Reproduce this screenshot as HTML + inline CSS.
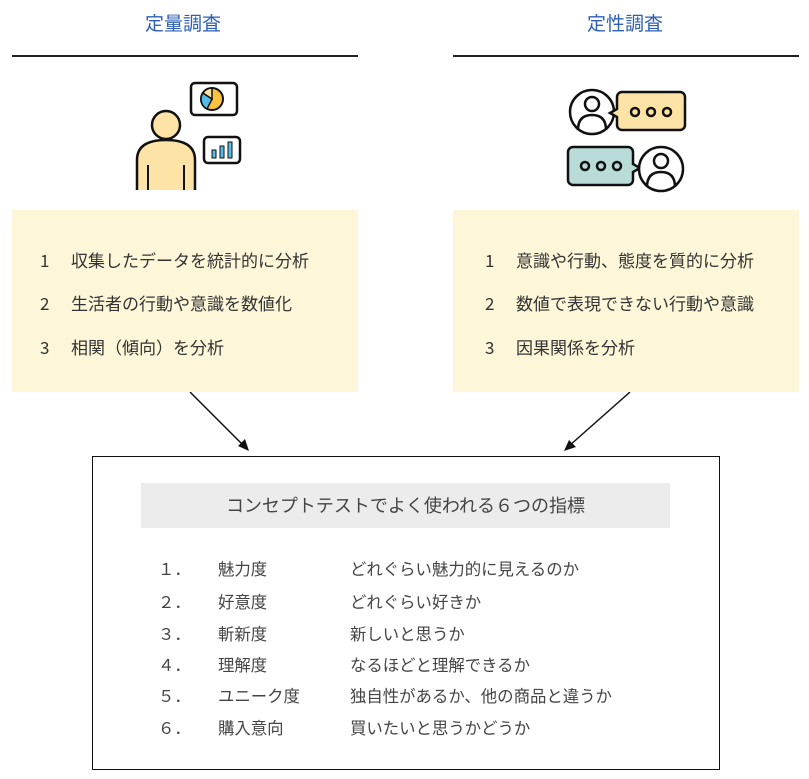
<!DOCTYPE html>
<html><head><meta charset="utf-8"><style>
body{margin:0;width:809px;height:779px;background:#fff;position:relative;overflow:hidden;font-family:"Liberation Sans","Noto Sans CJK JP",sans-serif;color:#333}
.a{position:absolute;white-space:nowrap;line-height:24px}
.t{color:#2e5fb5;font-size:19px}
.y{position:absolute;background:#fdf6d9}
.i{font-size:17px;color:#333;font-family:"Noto Sans CJK JP",sans-serif}
.r{font-size:16.4px;color:#444;font-family:"Noto Sans CJK JP",sans-serif}
</style></head><body>
<div class="a t" style="left:145px;top:13px">定量調査</div>
<div class="a t" style="left:587px;top:13px">定性調査</div>
<div class="a" style="left:12px;top:55px;width:346px;height:2px;background:#222"></div>
<div class="a" style="left:453px;top:55px;width:346px;height:2px;background:#222"></div>

<svg class="a" style="left:0;top:0;line-height:normal" width="809" height="779">
 <path d="M137,190 L137,160 Q137,140 166,140 Q195,140 195,160 L195,190" fill="#fde3a6" stroke="#111" stroke-width="2.5"/>
 <circle cx="166" cy="125" r="14" fill="#fde3a6" stroke="#111" stroke-width="2.5"/>
 <line x1="148" y1="165" x2="148" y2="190" stroke="#111" stroke-width="2"/>
 <line x1="184" y1="165" x2="184" y2="190" stroke="#111" stroke-width="2"/>
 <rect x="191" y="83" width="46" height="32" rx="4" fill="#fff" stroke="#111" stroke-width="2.5"/>
 <circle cx="212" cy="99" r="11" fill="#fbc33e" stroke="#111" stroke-width="2"/>
 <path d="M212,99 L203,93 A11,11 0 0 0 207,109 Z" fill="#56bde6" stroke="#111" stroke-width="1.5"/>
 <path d="M212,99 L212,88 A11,11 0 0 0 203,93 Z" fill="#fde3a6" stroke="#111" stroke-width="1.5"/>
 <rect x="204" y="137" width="36" height="26" rx="4" fill="#fff" stroke="#111" stroke-width="2.5"/>
 <rect x="212" y="150" width="4" height="8" fill="#56bde6" stroke="#111"/>
 <rect x="220" y="146" width="4" height="12" fill="#56bde6" stroke="#111"/>
 <rect x="228" y="142" width="4" height="16" fill="#56bde6" stroke="#111"/>
 <circle cx="592" cy="112" r="22" fill="#fff" stroke="#111" stroke-width="2.5"/>
 <circle cx="592" cy="104" r="7" fill="#fff" stroke="#111" stroke-width="2.5"/>
 <path d="M578,130 Q578,115 592,115 Q606,115 606,130" fill="none" stroke="#111" stroke-width="2.5"/>
 <path d="M622,92 h58 a5,5 0 0 1 5,5 v28 a5,5 0 0 1 -5,5 h-58 a5,5 0 0 1 -5,-5 v-8 l-7,-4 l7,-4 v-12 a5,5 0 0 1 5,-5z" fill="#fde3a6" stroke="#111" stroke-width="2.5"/>
 <circle cx="635" cy="112" r="4" fill="none" stroke="#111" stroke-width="2.5"/>
 <circle cx="651" cy="112" r="4" fill="none" stroke="#111" stroke-width="2.5"/>
 <circle cx="667" cy="112" r="4" fill="none" stroke="#111" stroke-width="2.5"/>
 <path d="M573,147 h55 a5,5 0 0 1 5,5 v12 l7,4 l-7,4 v8 a5,5 0 0 1 -5,5 h-55 a5,5 0 0 1 -5,-5 v-28 a5,5 0 0 1 5,-5z" fill="#b9dcd9" stroke="#111" stroke-width="2.5"/>
 <circle cx="585" cy="166" r="4" fill="none" stroke="#111" stroke-width="2.5"/>
 <circle cx="601" cy="166" r="4" fill="none" stroke="#111" stroke-width="2.5"/>
 <circle cx="617" cy="166" r="4" fill="none" stroke="#111" stroke-width="2.5"/>
 <circle cx="661" cy="169" r="22" fill="#fff" stroke="#111" stroke-width="2.5"/>
 <circle cx="661" cy="161" r="7" fill="#fff" stroke="#111" stroke-width="2.5"/>
 <path d="M647,187 Q647,172 661,172 Q675,172 675,187" fill="none" stroke="#111" stroke-width="2.5"/>
 <line x1="190" y1="392" x2="244" y2="446" stroke="#111" stroke-width="1.5"/>
 <path d="M249,451 L238,446 L245,439 Z" fill="#111"/>
 <line x1="630" y1="392" x2="569" y2="446" stroke="#111" stroke-width="1.5"/>
 <path d="M564,451 L569,440 L576,447 Z" fill="#111"/>
</svg>

<div class="y" style="left:12px;top:210px;width:346px;height:182px"></div>
<div class="y" style="left:453px;top:210px;width:346px;height:182px"></div>
<div class="a i" style="left:40px;top:248px">1</div><div class="a i" style="left:71px;top:248px">収集したデータを統計的に分析</div>
<div class="a i" style="left:40px;top:291px">2</div><div class="a i" style="left:71px;top:291px">生活者の行動や意識を数値化</div>
<div class="a i" style="left:40px;top:335px">3</div><div class="a i" style="left:71px;top:335px">相関（傾向）を分析</div>
<div class="a i" style="left:485px;top:248px">1</div><div class="a i" style="left:516px;top:248px">意識や行動、態度を質的に分析</div>
<div class="a i" style="left:485px;top:291px">2</div><div class="a i" style="left:516px;top:291px">数値で表現できない行動や意識</div>
<div class="a i" style="left:485px;top:335px">3</div><div class="a i" style="left:516px;top:335px">因果関係を分析</div>

<div class="a" style="left:92px;top:456px;width:626px;height:312px;border:1.5px solid #111"></div>
<div class="a" style="left:141px;top:483px;width:529px;height:45px;background:#ececec;color:#444;font-size:18px;text-align:center;line-height:45px;font-family:'Noto Sans CJK JP',sans-serif">コンセプトテストでよく使われる６つの指標</div>

<div class="a r" style="left:158px;top:556px">１．</div><div class="a r" style="left:218px;top:556px">魅力度</div><div class="a r" style="left:350px;top:556px">どれぐらい魅力的に見えるのか</div>
<div class="a r" style="left:158px;top:589px">２．</div><div class="a r" style="left:218px;top:589px">好意度</div><div class="a r" style="left:350px;top:589px">どれぐらい好きか</div>
<div class="a r" style="left:158px;top:621px">３．</div><div class="a r" style="left:218px;top:621px">斬新度</div><div class="a r" style="left:350px;top:621px">新しいと思うか</div>
<div class="a r" style="left:158px;top:652px">４．</div><div class="a r" style="left:218px;top:652px">理解度</div><div class="a r" style="left:350px;top:652px">なるほどと理解できるか</div>
<div class="a r" style="left:158px;top:683px">５．</div><div class="a r" style="left:218px;top:683px">ユニーク度</div><div class="a r" style="left:350px;top:683px">独自性があるか、他の商品と違うか</div>
<div class="a r" style="left:158px;top:715px">６．</div><div class="a r" style="left:218px;top:715px">購入意向</div><div class="a r" style="left:350px;top:715px">買いたいと思うかどうか</div>
</body></html>
